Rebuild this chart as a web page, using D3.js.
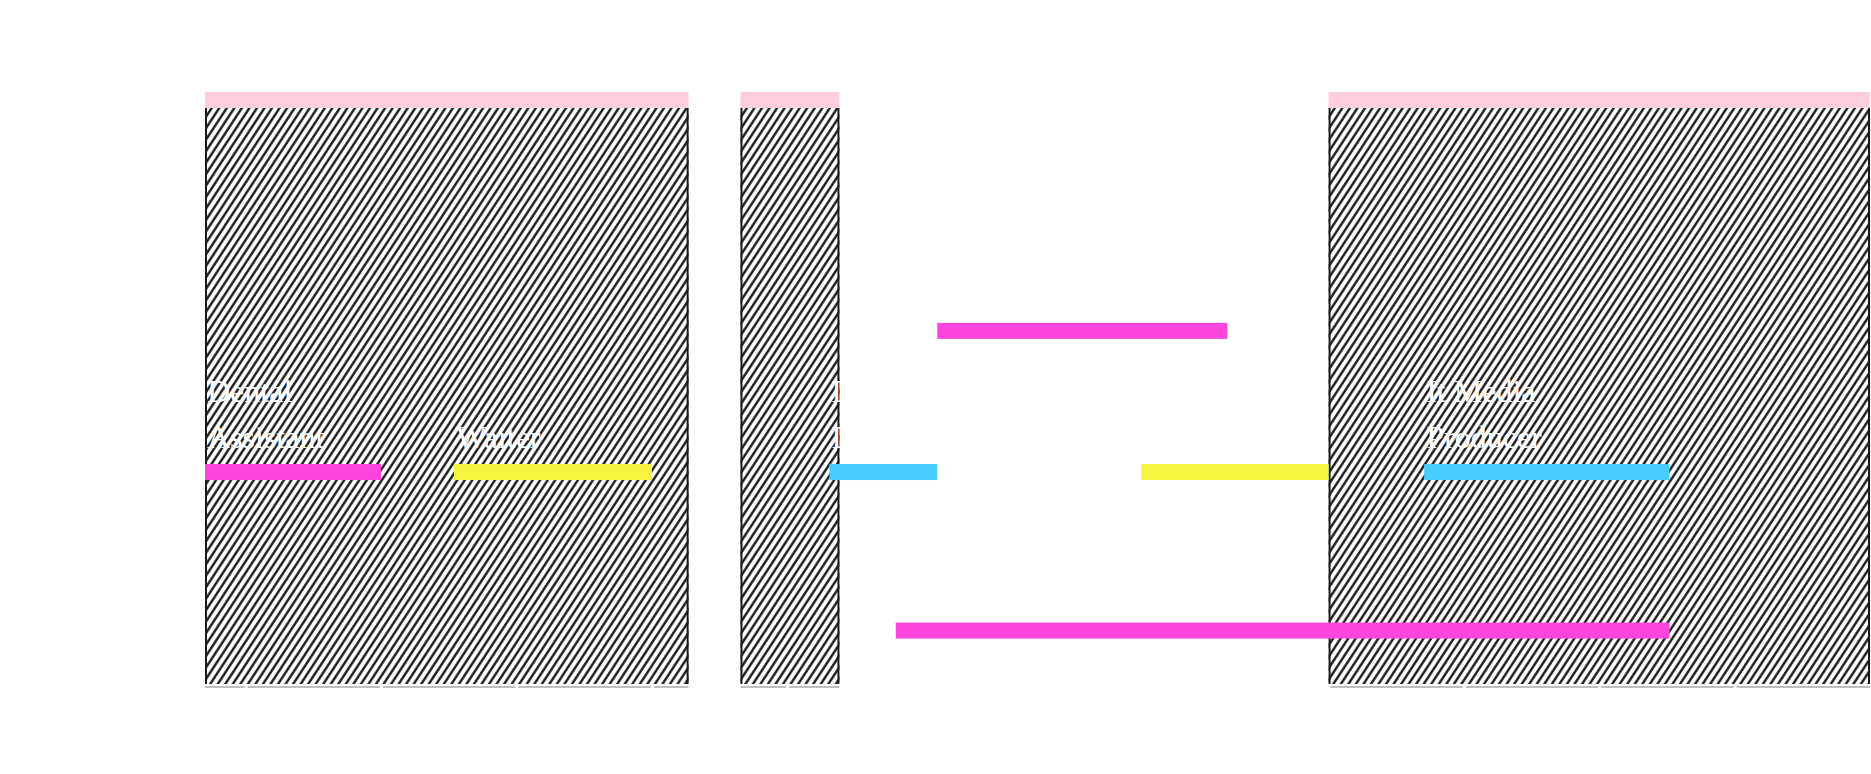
<!DOCTYPE html>
<html><head><meta charset="utf-8">
<script src="https://cdn.jsdelivr.net/npm/d3@7"></script>
<style>html,body{margin:0;padding:0;background:#fff;}svg{display:block}</style>
</head><body>
<svg id="chart" width="1871" height="774"></svg>
<script>
// ---- data ----
const domainStart = "2009-09-13";
const domainEnd = "2022-01-01";
const tickYears = [2010, 2011, 2012, 2013, 2014, 2015, 2016, 2017, 2018, 2019, 2020, 2021];

const periodStarts = ["2009-09-13", "2013-08-28", "2018-01-01"];
const periodEnds   = ["2013-04-10", "2014-05-22", "2022-01-01"];

const taskLabels = [
  ["Dental", "Assistant"],
  ["Waiter"],
  ["Delivery", "Driver"],
  ["Sales", "Associate"],
  ["It Media", "Producer"],
  ["Freelance", "Writer"],
  ["Online", "Degree"]
];
const taskStarts = ["2009-09-13", "2011-07-17", "2014-04-25", "2016-08-14", "2018-09-16", "2015-02-10", "2014-10-21"];
const taskEnds   = ["2011-01-01", "2013-01-01", "2015-02-10", "2018-01-01", "2020-07-09", "2017-04-03", "2020-07-09"];
const taskCategories = ["A", "B", "C", "B", "C", "A", "A"];
const taskLevels = [14.85, 14.85, 14.85, 14.85, 14.85, 24.6, 3.9];

const categories = ["A", "B", "C"];
const categoryColors = ["#fb45dc", "#f5f53d", "#47cdff"];

// ---- layout ----
const W = 1871, H = 774;
const margin = {left: 205, right: 1, top: 92, bottom: 87};
const bandH = 16;
const barH = 16;
const lineH = 46;

const parse = d3.utcParse("%Y-%m-%d");
const x = d3.scaleUtc()
  .domain([parse(domainStart), parse(domainEnd)])
  .range([margin.left, W - margin.right]);
const plotTop = margin.top + bandH;
const plotBottom = H - margin.bottom;
const y = d3.scaleLinear().domain([0, 40]).range([plotBottom, plotTop]);
const color = d3.scaleOrdinal().domain(categories).range(categoryColors);

const svg = d3.select("#chart");
const defs = svg.append("defs");
const pat = defs.append("pattern")
  .attr("id", "hatch")
  .attr("patternUnits", "userSpaceOnUse")
  .attr("width", 6.3).attr("height", 12)
  .attr("patternTransform", "rotate(33.3)");
pat.append("rect").attr("width", 6.3).attr("height", 12).attr("fill", "#fff");
pat.append("line").attr("x1", 3.15).attr("x2", 3.15).attr("y1", 0).attr("y2", 12)
  .attr("stroke", "#161616").attr("stroke-width", 2.35);

const periods = periodStarts.map((s, i) => ({start: parse(s), end: parse(periodEnds[i])}));
const tasks = taskLabels.map((l, i) => ({
  lines: l, start: parse(taskStarts[i]), end: parse(taskEnds[i]),
  cat: taskCategories[i], level: taskLevels[i]
}));

// periods (hatched)
const pg = svg.append("g").attr("class", "periods");
pg.selectAll("rect.hatch").data(periods).join("rect")
  .attr("class", "hatch")
  .attr("x", d => x(d.start))
  .attr("y", plotTop)
  .attr("width", d => x(d.end) - x(d.start))
  .attr("height", plotBottom - 3 - plotTop)
  .attr("fill", "url(#hatch)");
pg.selectAll("line.edgeL").data(periods).join("line")
  .attr("class", "edgeL")
  .attr("x1", d => x(d.start) + 1).attr("x2", d => x(d.start) + 1)
  .attr("y1", plotTop).attr("y2", plotBottom - 3)
  .attr("stroke", "#1a1a1a").attr("stroke-width", 2);
pg.selectAll("line.edgeR").data(periods).join("line")
  .attr("class", "edgeR")
  .attr("x1", d => x(d.end) - 1).attr("x2", d => x(d.end) - 1)
  .attr("y1", plotTop).attr("y2", plotBottom - 3)
  .attr("stroke", "#1a1a1a").attr("stroke-width", 2);
pg.selectAll("line.base").data(periods).join("line")
  .attr("class", "base")
  .attr("x1", d => x(d.start)).attr("x2", d => x(d.end))
  .attr("y1", plotBottom).attr("y2", plotBottom)
  .attr("stroke", "#aaa").attr("stroke-width", 1.5);
pg.selectAll("rect.band").data(periods).join("rect")
  .attr("class", "band")
  .attr("x", d => x(d.start))
  .attr("y", margin.top)
  .attr("width", d => x(d.end) - x(d.start))
  .attr("height", bandH)
  .attr("fill", "#ffcde0");

// x axis (white)
const xAxis = d3.axisBottom(x)
  .tickValues(tickYears.map(yv => new Date(Date.UTC(yv, 0, 1))))
  .tickFormat(d3.utcFormat("%Y"))
  .tickSize(6);
const ax = svg.append("g").attr("transform", `translate(0,${plotBottom})`).call(xAxis);
ax.select(".domain").attr("stroke", "none");
ax.selectAll(".tick line").attr("stroke", "#fff").attr("stroke-width", 3).attr("y1", -2);
ax.selectAll(".tick text").attr("fill", "#fff").attr("font-size", 20).attr("font-family", "Liberation Serif");

// tasks
const tg = svg.append("g").attr("class", "tasks");
tg.selectAll("rect").data(tasks).join("rect")
  .attr("x", d => x(d.start))
  .attr("y", d => y(d.level) - barH / 2)
  .attr("width", d => x(d.end) - x(d.start))
  .attr("height", barH)
  .attr("fill", d => color(d.cat));

const lg = tg.selectAll("text").data(tasks).join("text")
  .attr("x", d => x(d.start) + 2)
  .attr("y", d => y(d.level) - barH / 2 - 16)
  .attr("fill", "#fff")
  .attr("font-family", "Liberation Serif")
  .attr("font-size", 32);
lg.selectAll("tspan").data(d => d.lines.map((t, i) => ({t, i, n: d.lines.length, x: x(d.start) + 2})))
  .join("tspan")
  .attr("x", d => d.x)
  .attr("dy", (d) => d.i === 0 ? -(d.n - 1) * lineH : lineH)
  .text(d => d.t);
</script>
</body></html>
